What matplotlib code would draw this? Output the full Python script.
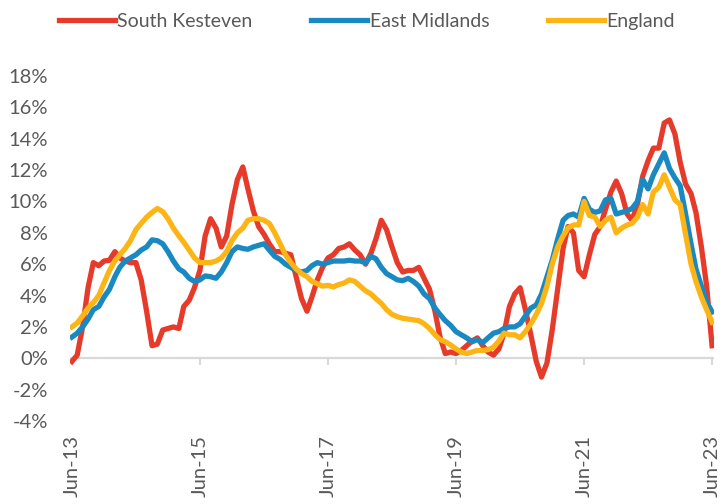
import matplotlib
matplotlib.use('Agg')
import matplotlib.pyplot as plt
import matplotlib.dates as mdates
import pandas as pd

## 数据
months = pd.date_range('2013-06-01', periods=121, freq='MS')

south_kesteven = [
    -0.2, 0.2, 2.0, 4.5, 6.1, 5.9, 6.2, 6.25, 6.8, 6.4,
    6.2, 6.1, 6.1, 5.0, 3.0, 0.8, 0.9, 1.8, 1.9, 2.0,
    1.9, 3.3, 3.7, 4.5, 5.6, 7.8, 8.9, 8.3, 7.1, 7.8,
    9.8, 11.4, 12.2, 10.8, 9.4, 8.4, 7.9, 7.3, 6.8, 6.8,
    6.7, 6.6, 5.2, 3.8, 3.0, 3.9, 5.0, 5.8, 6.4, 6.6,
    7.0, 7.1, 7.3, 6.9, 6.6, 6.0, 6.7, 7.6, 8.8, 8.2,
    7.1, 6.1, 5.5, 5.6, 5.6, 5.8, 5.1, 4.4, 3.0, 1.4,
    0.3, 0.4, 0.3, 0.5, 0.8, 1.1, 1.3, 0.8, 0.4, 0.2,
    0.6, 1.6, 3.3, 4.1, 4.5, 3.1, 1.5, -0.2, -1.2, -0.3,
    1.8, 4.4, 7.0, 8.4, 8.0, 5.6, 5.2, 6.6, 7.9, 8.4,
    9.5, 10.6, 11.3, 10.5, 9.2, 8.8, 9.8, 11.6, 12.6, 13.4,
    13.4, 15.0, 15.2, 14.3, 12.5, 11.1, 10.5, 9.3, 7.1, 4.6,
    0.8,
]

east_midlands = [
    1.35, 1.6, 2.0, 2.5, 3.1, 3.3, 3.9, 4.4, 5.2, 5.8,
    6.2, 6.4, 6.6, 6.9, 7.1, 7.55, 7.5, 7.3, 6.8, 6.2,
    5.7, 5.5, 5.1, 4.9, 5.0, 5.25, 5.2, 5.1, 5.5, 6.1,
    6.8, 7.1, 7.0, 6.95, 7.1, 7.2, 7.3, 6.9, 6.5, 6.3,
    6.0, 5.8, 5.6, 5.5, 5.6, 5.9, 6.1, 6.0, 6.1, 6.2,
    6.2, 6.2, 6.25, 6.2, 6.2, 6.1, 6.5, 6.35, 5.8, 5.4,
    5.2, 5.0, 4.95, 5.1, 4.9, 4.6, 4.1, 3.8, 3.2, 2.8,
    2.4, 2.1, 1.7, 1.5, 1.3, 1.05, 1.2, 1.0, 1.3, 1.6,
    1.7, 1.9, 2.0, 2.0, 2.2, 2.7, 3.2, 3.4, 4.1, 5.2,
    6.25, 7.6, 8.8, 9.1, 9.2, 9.0, 10.2, 9.5, 9.3, 9.4,
    10.1, 10.2, 9.2, 9.3, 9.4, 9.55, 10.0, 11.4, 10.8, 11.7,
    12.4, 13.1, 12.1, 11.5, 11.0, 9.2, 7.3, 5.7, 4.6, 3.6,
    2.95,
]

england = [
    2.0, 2.25, 2.7, 3.2, 3.55, 4.0, 4.8, 5.6, 6.2, 6.6,
    7.0, 7.5, 8.2, 8.6, 9.0, 9.3, 9.55, 9.35, 8.9, 8.3,
    7.8, 7.4, 6.9, 6.4, 6.1, 6.1, 6.1, 6.2, 6.4, 6.8,
    7.5, 8.0, 8.3, 8.8, 8.9, 8.9, 8.8, 8.6, 8.0, 7.3,
    6.6, 6.1, 5.7, 5.4, 5.2, 4.9, 4.75, 4.6, 4.65, 4.55,
    4.7, 4.8, 5.0, 4.9, 4.6, 4.3, 4.1, 3.8, 3.5, 3.1,
    2.8, 2.65, 2.55, 2.5, 2.45, 2.4, 2.2, 1.9, 1.5, 1.2,
    1.05, 0.85, 0.6, 0.4, 0.3, 0.4, 0.5, 0.5, 0.55, 0.7,
    1.1, 1.6, 1.5, 1.5, 1.3, 1.7, 2.2, 2.8, 3.5, 4.6,
    6.0, 7.1, 7.8, 8.3, 8.5, 8.5, 10.0, 9.1, 9.0, 8.4,
    8.8, 9.0, 8.0, 8.3, 8.5, 8.6, 9.0, 9.8, 9.2, 10.6,
    10.9, 11.7, 10.9, 10.1, 9.8, 7.9, 6.0, 4.9, 3.9, 3.1,
    2.3,
]

series_names = ['South Kesteven', 'East Midlands', 'England']
series_colors = ['#E63A2A', '#1A89C2', '#FDB515']
y_ticks = list(range(-4, 19, 2))
x_ticks = pd.date_range('2013-06-01', '2023-06-01', freq='24MS')

## 绘图
plt.rcParams['font.family'] = ['Lato', 'DejaVu Sans']
grey = '#595959'

fig = plt.figure(figsize=(7.2, 5.04), dpi=100)
ax = fig.add_axes([70 / 720, 1 - 421 / 504, 644 / 720, 345 / 504])

for name, values, color in zip(series_names, [south_kesteven, east_midlands, england], series_colors):
    ax.plot(months, values, color=color, lw=3.8, label=name, solid_joinstyle='round')

# 坐标范围
ax.set_ylim(-4, 18)
ax.set_xlim(months[0] - pd.Timedelta(days=11), months[-1] + pd.Timedelta(days=11))

# y 轴刻度
ax.set_yticks(y_ticks)
ax.set_yticklabels(['%d%%' % v for v in y_ticks])

# x 轴刻度 (标签在底部, 刻度线在 0 处)
ax.set_xticks(x_ticks)
ax.xaxis.set_major_formatter(mdates.DateFormatter('%b-%y'))
ax.tick_params(axis='x', length=0, pad=10, labelrotation=90, labelsize=14.5, colors=grey)
ax.tick_params(axis='y', length=0, pad=16, labelsize=14.5, colors=grey)

# 0 线和刻度线
ax.axhline(0, color='#D9D9D9', lw=1.6, zorder=0)
ax.vlines(x_ticks, -0.45, 0, color='#D9D9D9', lw=1.6, zorder=0)

for s in ax.spines.values():
    s.set_visible(False)

# 图例
fig.legend(loc='upper left', bbox_to_anchor=(46 / 720, 1.0), ncol=3, frameon=False,
           fontsize=14, labelcolor=grey, handlelength=2.9, handletextpad=0.12,
           columnspacing=3.0, borderaxespad=0.25)

plt.savefig('out.png', dpi=100)
